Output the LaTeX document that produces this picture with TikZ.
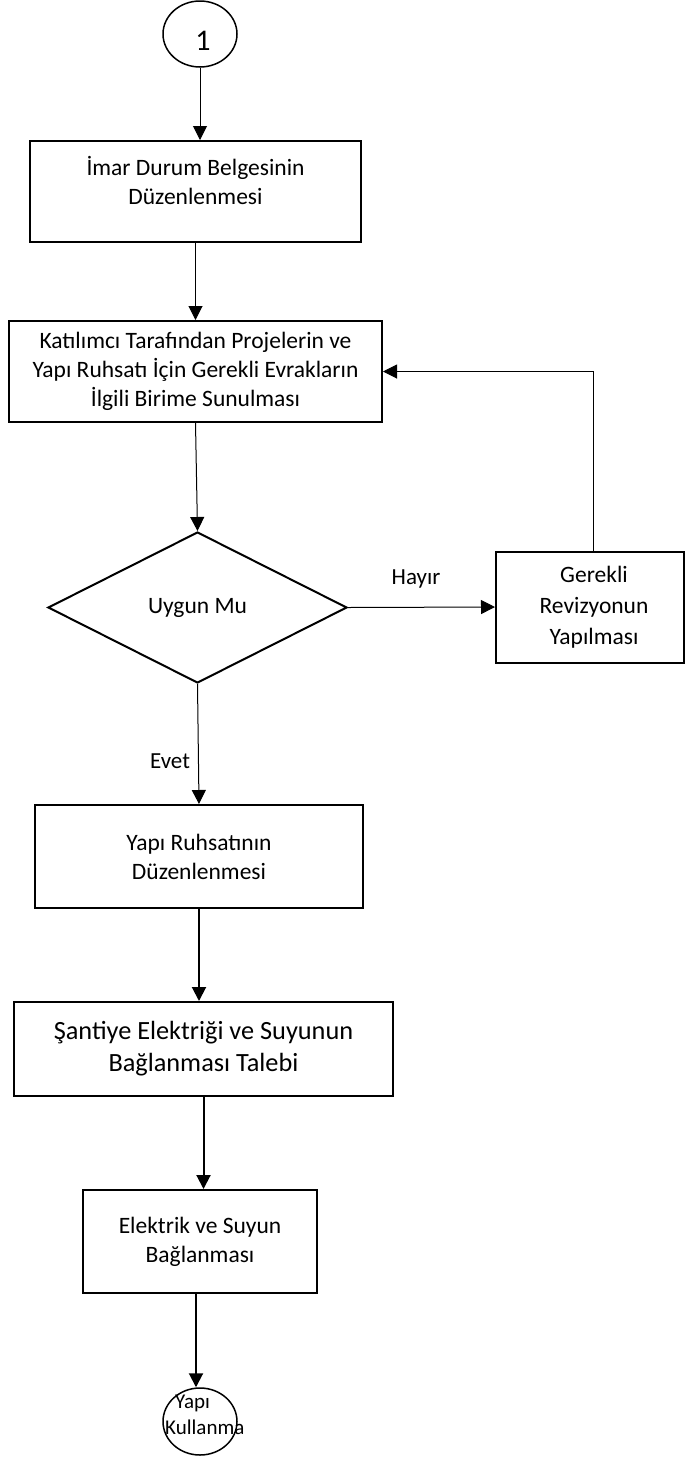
\documentclass[tikz,border=0pt]{standalone}
\usepackage{fontspec}
\setmainfont{Carlito}
\usetikzlibrary{shapes.geometric,arrows.meta}
\begin{document}
\begin{tikzpicture}[x=1pt,y=-1pt,
  box/.style={draw, line width=2pt, rectangle, inner sep=0pt, align=center, font=\fontsize{23.5}{29}\selectfont},
  conn/.style={line width=1pt, -{Triangle[length=14pt,width=14pt]}},
  connthick/.style={line width=2pt, -{Triangle[length=14pt,width=14pt]}},
  lbl/.style={font=\fontsize{23}{28}\selectfont, anchor=base, inner sep=0pt}]
\fill[white] (0,0) rectangle (685,1457);
\useasboundingbox (0,0) rectangle (685,1457);

\node[ellipse, draw, line width=1.5pt, minimum width=74pt, minimum height=66pt, inner sep=0pt,
      font=\fontsize{30}{36}\selectfont, text height=33pt, text depth=0pt] (c1) at (200,34) {\hspace*{6pt}1};

\node[box, minimum width=331pt, minimum height=101pt] (b1) at (195.5,191.5)
  {İmar Durum Belgesinin\\Düzenlenmesi\rule[-22pt]{0pt}{0pt}};

\node[box, minimum width=373pt, minimum height=101pt] (b2) at (195.5,371.5)
  {Katılımcı Tarafından Projelerin ve\\Yapı Ruhsatı İçin Gerekli Evrakların\\İlgili Birime Sunulması};

\node[diamond, draw, line width=2pt, minimum width=299pt, minimum height=151pt, inner sep=0pt,
      font=\fontsize{23.5}{29}\selectfont] (d) at (197.5,607.5) {Uygun Mu};

\node[box, minimum width=188pt, minimum height=111pt, font=\fontsize{23.5}{31}\selectfont] (b3) at (590,607)
  {\hspace*{8pt}Gerekli\\\hspace*{8pt}Revizyonun\\\hspace*{8pt}Yapılması};

\node[box, minimum width=328pt, minimum height=103pt] (b4) at (199,856.5)
  {Yapı Ruhsatının\\Düzenlenmesi};

\node[box, minimum width=379pt, minimum height=94pt, font=\fontsize{26.3}{32}\selectfont] (b5) at (203.5,1049)
  {Şantiye Elektriği ve Suyunun\\Bağlanması Talebi};

\node[box, minimum width=234pt, minimum height=103pt] (b6) at (200,1241.5)
  {Elektrik ve Suyun\\Bağlanması};

\node[ellipse, draw, line width=1.5pt, minimum width=74pt, minimum height=67pt, inner sep=0pt] (e) at (200,1421.5) {};
\node[font=\fontsize{21}{26}\selectfont, align=left, inner sep=0pt, anchor=west] (et) at (165,1415)
  {\hspace*{10pt}Yapı\\Kullanma};

\draw[conn] (c1.south) -- (c1.south |- b1.north);
\draw[conn] (b1.south) -- (b2.north);
\draw[conn] (b2.south) -- (d.north);
\draw[conn] (d.east) -- (b3.west);
\draw[conn] ([xshift=3pt]b3.north) |- (b2.east);
\draw[conn] (d.south) -- (b4.north);
\draw[connthick] (b4.south) -- (b4.south |- b5.north);
\draw[connthick] (b5.south) -- (b5.south |- b6.north);
\draw[connthick] ([xshift=-4pt]b6.south) -- ([xshift=-4pt]b6.south |- e.north);

\node[lbl] (hayir) at (416,584) {Hayır};
\node[lbl] (evet) at (170,768) {Evet};
\end{tikzpicture}
\end{document}
